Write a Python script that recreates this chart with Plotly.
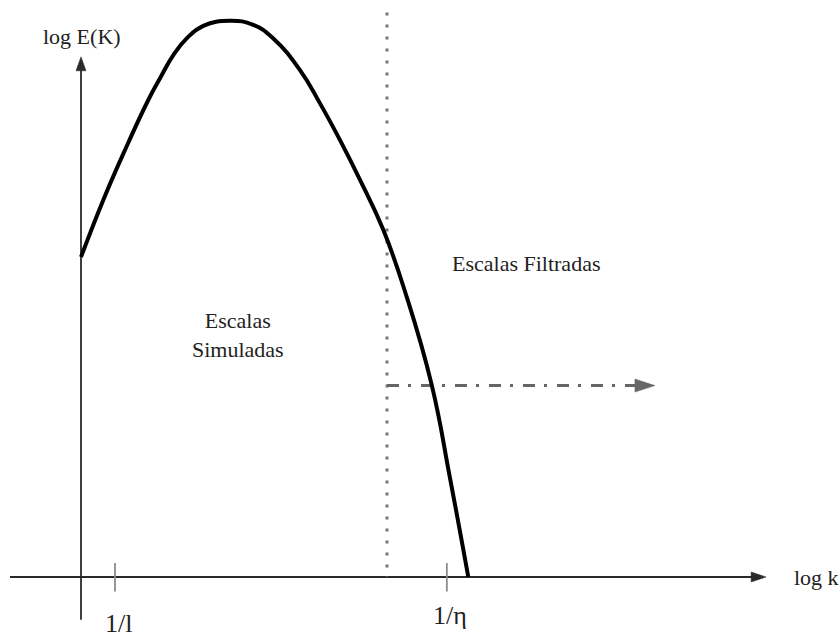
import plotly.graph_objects as go

# Energy spectrum sketch: log E(K) against log k
log_k = [0.0, 0.656, 1.294, 1.979, 2.324, 2.715, 3.109, 3.597, 4.382, 5.068,
         5.656, 6.441, 7.029, 7.618, 8.206, 8.891, 9.579, 10.315, 10.853, 11.391]
log_E = [9.41, 11.09, 12.56, 14.03, 14.67, 15.35, 15.84, 16.21, 16.36, 16.24,
         15.84, 14.91, 13.93, 12.85, 11.68, 10.21, 8.24, 5.65, 2.91, 0.0]

# Reference wavenumbers on the k axis
tick_k = [1.0, 10.76]
tick_labels = ["1/l", "1/η"]
tick_label_y = [-1.38, -1.12]

# Filter cut-off and the extent of the drawn axes
cutoff_k = 9.0
filtered_arrow_y = 5.63
filtered_arrow_end = 16.88
x_axis_span = [-2.09, 20.15]
y_axis_span = [-1.26, 15.3]
cutoff_top = 16.6

# Region captions
region_text = ["Escalas Filtradas", "Escalas<br>Simuladas"]
region_pos = [(13.09, 9.21), (4.63, 7.12)]

W, H = 840, 637
UNIT = 34.0  # pixels per data unit, same on both axes
x0_px, y0_px = 81, 577
x_range = [-x0_px / UNIT, (W - x0_px) / UNIT]
y_range = [-(H - y0_px) / UNIT, y0_px / UNIT]

FONT = "Liberation Serif, Times New Roman, serif"
TXT = "#222222"

fig = go.Figure()


def px(v):
    return v / UNIT


def arrow_head(tip_x, tip_y, direction, length_px, width_px, color):
    L, Wd = px(length_px), px(width_px) / 2
    if direction == "right":
        xs = [tip_x, tip_x - L, tip_x - L, tip_x]
        ys = [tip_y, tip_y + Wd, tip_y - Wd, tip_y]
    else:  # up
        xs = [tip_x, tip_x - Wd, tip_x + Wd, tip_x]
        ys = [tip_y, tip_y - L, tip_y - L, tip_y]
    fig.add_trace(go.Scatter(x=xs, y=ys, mode="lines", fill="toself",
                             fillcolor=color, line=dict(color=color, width=0.5),
                             hoverinfo="skip"))


# Axes with arrowheads
AX = "#2a2a2a"
fig.add_trace(go.Scatter(x=[x_axis_span[0], x_axis_span[1] - px(13)], y=[0, 0],
                         mode="lines", line=dict(color=AX, width=1.8), hoverinfo="skip"))
arrow_head(x_axis_span[1], 0, "right", 15, 10, AX)
fig.add_trace(go.Scatter(x=[0, 0], y=[y_axis_span[0], y_axis_span[1] - px(12)],
                         mode="lines", line=dict(color=AX, width=1.8), hoverinfo="skip"))
arrow_head(0, y_axis_span[1], "up", 14, 10, AX)

# Tick marks at 1/l and 1/eta
for k in tick_k:
    fig.add_trace(go.Scatter(x=[k, k], y=[px(14), -px(14.5)], mode="lines",
                             line=dict(color="#8c8c8c", width=1.8), hoverinfo="skip"))

# Dotted cut-off line
fig.add_trace(go.Scatter(x=[cutoff_k, cutoff_k], y=[cutoff_top, 0], mode="lines",
                         line=dict(color="#777777", width=3, dash="3px,9px"),
                         hoverinfo="skip"))

# Dash-dot arrow toward the filtered scales
GR = "#666666"
fig.add_trace(go.Scatter(x=[cutoff_k, filtered_arrow_end - px(19)],
                         y=[filtered_arrow_y, filtered_arrow_y], mode="lines",
                         line=dict(color=GR, width=3, dash="12px,9px,3px,10px"),
                         hoverinfo="skip"))
arrow_head(filtered_arrow_end, filtered_arrow_y, "right", 20, 13, GR)

# Spectrum curve
fig.add_trace(go.Scatter(x=log_k, y=log_E, mode="lines",
                         line=dict(color="black", width=4, shape="spline", smoothing=1.3),
                         hoverinfo="skip"))

annotations = [
    dict(x=0.03, y=15.91, text="log E(K)", xanchor="center", yanchor="middle"),
    dict(x=20.91, y=0.0, text="log k", xanchor="left", yanchor="middle"),
]
for k, lab, ly in zip(tick_k, tick_labels, tick_label_y):
    annotations.append(dict(x=k + px(3), y=ly, text=lab, xanchor="center",
                            yanchor="middle", font=dict(size=26, family=FONT, color=TXT)))
for t, (tx, ty) in zip(region_text, region_pos):
    annotations.append(dict(x=tx, y=ty, text=t, xanchor="center", yanchor="middle"))

for a in annotations:
    a.setdefault("font", dict(size=22, family=FONT, color=TXT))
    a.update(showarrow=False, xref="x", yref="y")

fig.update_layout(
    width=W, height=H,
    margin=dict(l=0, r=0, t=0, b=0),
    paper_bgcolor="white", plot_bgcolor="white",
    showlegend=False,
    xaxis=dict(range=x_range, visible=False, fixedrange=True),
    yaxis=dict(range=y_range, visible=False, fixedrange=True),
    annotations=annotations,
)

fig.write_html("out.html", config={"displayModeBar": False})
